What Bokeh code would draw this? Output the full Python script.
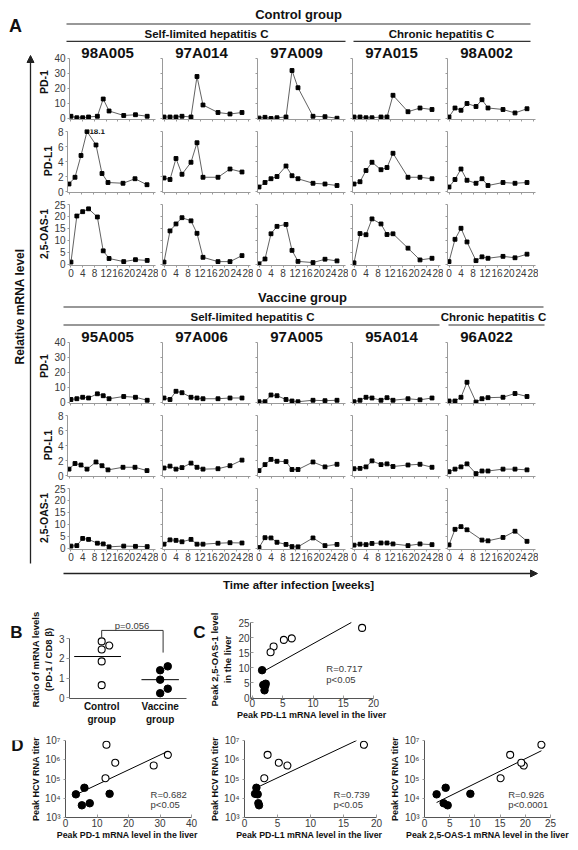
import numpy as np
from bokeh.plotting import figure
from bokeh.models import Range1d, FixedTicker, Arrow, NormalHead, CustomJSTickFormatter, Spacer
from bokeh.layouts import row, column
from bokeh.core.properties import value
from bokeh.embed import file_html
from bokeh.resources import INLINE

FONT = "Liberation Sans"
AXC = "#9a9a9a"
TXC = "#3a3a3a"

# ---------------- data ----------------
weeks = [0, 2, 4, 6, 9, 11, 13, 18, 22, 26]
weeks_96A022_oas = [0, 2, 4, 6, 11, 13, 18, 22, 26]

ctrl_ids = ["98A005", "97A014", "97A009", "97A015", "98A002"]
ctrl_pd1 = [
    [1.5, 0.5, 0.5, 1.0, 1.5, 13, 5, 2, 2.5, 1.5],
    [1, 1, 1, 1.5, 1, 28, 9, 4, 3, 4],
    [0.3, 0.8, 0.0, 0.5, 1.0, 32, 20.5, 1.5, 1.2, 0.2],
    [1, 1, 0.5, 0.5, 1, 1, 15.5, 4.5, 7, 6],
    [1, 7, 5.5, 10, 8, 12.5, 7, 6, 3.7, 6.5],
]
ctrl_pdl1 = [
    [1.0, 1.9, 4.8, 18.1, 6.2, 2.4, 1.2, 1.1, 1.7, 0.9],
    [1.8, 1.6, 4.4, 2.3, 3.9, 6.5, 1.9, 1.9, 3.0, 2.6],
    [0.6, 1.2, 1.7, 2.0, 3.4, 2.1, 1.7, 1.1, 1.0, 0.8],
    [1.0, 1.3, 2.8, 3.9, 2.9, 3.2, 5.1, 1.9, 1.9, 1.7],
    [0.6, 1.6, 3.0, 1.5, 1.1, 1.7, 0.8, 1.2, 1.1, 1.2],
]
ctrl_oas = [
    [1.0, 20.2, 22, 23.2, 19.8, 5.7, 2.5, 1.2, 2.0, 1.7],
    [1.0, 14, 16.9, 19.5, 18.2, 13, 3, 1.2, 1.2, 3.7],
    [0.3, 2.3, 12.8, 15.9, 16.7, 5.9, 1.3, 0.8, 2.2, 1.5],
    [0.7, 12.9, 12.4, 19, 16.9, 12.5, 12.8, 6.8, 1.9, 2.6],
    [1.2, 10.5, 15.1, 9.4, 1.6, 3.2, 2.6, 3.4, 2.8, 4.3],
]

vac_ids = ["95A005", "97A006", "97A005", "95A014", "96A022"]
vac_pd1 = [
    [2, 2.5, 3.5, 3, 5.8, 4.5, 2.5, 4, 3.5, 1.5],
    [3, 2, 7.5, 6.5, 3.5, 3, 2.5, 2.5, 3, 3],
    [0.5, 0.5, 5, 4.5, 2, 1, 0.5, 1.5, 1.2, 1.5],
    [0.5, 1.5, 3.5, 3, 1.5, 3.2, 1.5, 2.5, 1.8, 3],
    [1, 1, 3.5, 13.5, 0.3, 2.5, 3.2, 3.5, 6, 4],
]
vac_pdl1 = [
    [0.85, 1.6, 1.4, 0.85, 1.8, 1.3, 0.75, 1.1, 1.1, 0.65],
    [1.0, 1.25, 0.85, 1.05, 1.65, 1.1, 0.85, 0.9, 1.3, 2.05],
    [0.65, 1.45, 2.15, 1.9, 1.85, 0.8, 0.8, 1.8, 1.15, 1.5],
    [0.9, 0.95, 1.15, 1.95, 1.45, 1.55, 1.2, 1.4, 1.5, 1.1],
    [0.5, 0.85, 1.15, 1.55, 0.25, 0.6, 0.6, 0.85, 0.85, 0.75],
]
vac_oas = [
    [1.0, 1.2, 4.2, 3.8, 2.2, 1.9, 0.7, 1.0, 0.9, 0.8],
    [1.8, 3.6, 3.4, 2.8, 3.8, 1.8, 1.8, 2.2, 2.4, 2.3],
    [0.4, 4.5, 4.4, 2.6, 1.7, 0.8, 0.7, 4.4, 1.2, 1.7],
    [1.4, 1.8, 1.6, 2.1, 2.3, 2.3, 1.9, 1.2, 1.9, 1.6],
    [1.5, 8.0, 9.1, 7.8, 3.5, 3.2, 4.6, 7.2, 3.0],
]

week_ticks = [0, 4, 8, 12, 16, 20, 24, 28]

# panel B
b_ctrl = [2.87, 2.46, 2.66, 1.85, 0.64]
b_ctrl_jitter = [0, 0, 0.13, 0, 0]
b_vac = [1.40, 1.60, 0.92, 0.46, 0.23]
b_vac_jitter = [0, 0.13, 0, 0.13, 0]
b_median = [2.1, 0.92]
b_groups = ["Control\ngroup", "Vaccine\ngroup"]

# panels C / D (order: 5 control animals, then 5 vaccine animals)
peak_pd1 = [13, 28, 32.5, 15.8, 12.7, 6.0, 7.7, 5.2, 3.3, 14.0]
peak_pdl1 = [18.1, 6.5, 3.5, 5.2, 3.0, 1.8, 2.1, 2.2, 2.0, 1.6]
peak_oas = [23.2, 19.7, 17.0, 19.2, 15.1, 4.2, 3.8, 4.6, 2.4, 9.1]
peak_titer = [6e6, 5e5, 1.8e6, 7e5, 1.1e5, 3.5e4, 5.5e3, 4.3e3, 1.6e4, 1.7e4]
stats_c = ("R=0.717", "p<0.05")
stats_d = [("R=0.682", "p<0.05"), ("R=0.739", "p<0.05"), ("R=0.926", "p<0.0001")]


# ---------------- helpers ----------------
def base_fig(w, h, xr, yr, bl=0, br=0, bt=0, bb=0, **kw):
    p = figure(width=w, height=h, x_range=xr, y_range=yr, toolbar_location=None,
               output_backend="svg", title=None,
               min_border_left=bl, min_border_right=br,
               min_border_top=bt, min_border_bottom=bb, **kw)
    p.grid.visible = False
    p.outline_line_color = None
    return p


def deco(w, h, x0, y0):
    p = base_fig(w, h, Range1d(x0, x0 + w), Range1d(y0 + h, y0),
                 x_axis_location=None, y_axis_location=None)
    return p


def txt(p, x, y, s, size, bold=True, align="center", baseline="middle",
        angle=0.0, color="#111111"):
    p.text(x=[x], y=[y], text=[s], text_font=value(FONT), text_font_size=size,
           text_font_style="bold" if bold else "normal", text_align=align,
           text_baseline=baseline, angle=angle, text_color=color)


def hline(p, x0, x1, y, w=1.2, c="#333333"):
    p.line([x0, x1], [y, y], line_color=c, line_width=w)


def style_axis(ax, size="10px"):
    ax.axis_line_color = AXC
    ax.major_tick_line_color = AXC
    ax.minor_tick_line_color = None
    ax.major_label_text_font = FONT
    ax.major_label_text_font_size = size
    ax.major_label_text_color = TXC
    ax.axis_label_text_font = FONT
    ax.axis_label_text_font_style = "bold"
    ax.axis_label_text_color = "#111111"


ROWS = [
    dict(name="PD-1", ymax=40, ticks=[0, 10, 20, 30, 40], lo=-0.667, hi=49.333, h=85, bt=2, bb=8),
    dict(name="PD-L1", ymax=8, ticks=[0, 2, 4, 6, 8], lo=-0.133, hi=8.267, h=73, bt=2, bb=8),
    dict(name="2,5-OAS-1", ymax=25, ticks=[0, 5, 10, 15, 20, 25], lo=-0.417, hi=25.833, h=83, bt=2, bb=18),
]


def series_fig(col, ri, vals, ident):
    R = ROWS[ri]
    first = col == 0
    bottom = ri == 2
    w = 123 if first else 95
    bl = 32 if first else 4
    times = weeks if len(vals) == len(weeks) else weeks_96A022_oas
    p = base_fig(w, R["h"], Range1d(-0.5, -0.5 + 88 / 3.0), Range1d(R["lo"], R["hi"]),
                 bl=bl, br=3, bt=R["bt"], bb=R["bb"])
    ymax = R["ymax"]
    yv = np.minimum(np.array(vals, dtype=float), ymax)
    p.line(times, yv, line_color="#3a3a3a", line_width=0.8)
    p.scatter(times, yv, marker="square", size=3.8, fill_color="black", line_color="black")
    for t, v in zip(times, vals):
        if v > ymax:
            txt(p, t + 0.8, ymax + 0.05, "%.1f" % v, "8px", bold=True, align="left")
    style_axis(p.xaxis[0])
    style_axis(p.yaxis[0])
    p.xaxis.ticker = FixedTicker(ticks=week_ticks)
    p.xaxis.major_tick_out = 2
    p.xaxis.major_tick_in = 0
    p.xaxis.major_label_standoff = 1
    if not bottom:
        p.xaxis.major_label_overrides = {t: "" for t in week_ticks}
    p.yaxis.ticker = FixedTicker(ticks=R["ticks"])
    p.yaxis.bounds = (R["lo"], ymax)
    p.yaxis.major_tick_out = 2
    p.yaxis.major_tick_in = 0
    p.yaxis.major_label_standoff = 2
    if first:
        p.yaxis.axis_label = R["name"]
        p.yaxis.axis_label_text_font_size = "10.5px"
        p.yaxis.axis_label_standoff = 1
    else:
        p.yaxis.major_label_overrides = {t: "" for t in R["ticks"]}
    if ident is not None:
        txt(p, 12.5, ymax + 4.0, ident, "15px", bold=True)
    return p


def group_block(ids, pd1, pdl1, oas):
    rows_ = []
    for ri, data in enumerate([pd1, pdl1, oas]):
        figs = [series_fig(c, ri, data[c], ids[c] if ri == 0 else None) for c in range(5)]
        rows_.append(row(*figs))
    return rows_


# ---------------- panel A ----------------
left = deco(27, 584, 8, 8)
txt(left, 15, 25, "A", "18px")
txt(left, 19, 306, "Relative mRNA level", "12px", angle=np.pi / 2)
left.add_layout(Arrow(end=NormalHead(size=7, fill_color="#222222", line_color="#222222"),
                      x_start=30, y_start=563, x_end=30, y_end=55,
                      line_color="#222222", line_width=1.3))

hdr_c = deco(535, 34, 35, 8)
txt(hdr_c, 298, 14, "Control group", "13px")
hline(hdr_c, 66, 530, 23.5)
txt(hdr_c, 206, 33, "Self-limited hepatitis C", "11.5px")
txt(hdr_c, 441, 33, "Chronic hepatitis C", "11.5px")
hline(hdr_c, 66, 345, 40.8)
hline(hdr_c, 353, 530, 40.8)

hdr_v = deco(535, 43, 35, 283)
txt(hdr_v, 302, 297, "Vaccine group", "13px")
hline(hdr_v, 63, 543, 306.5)
txt(hdr_v, 252, 316, "Self-limited hepatitis C", "11.5px")
txt(hdr_v, 493, 316, "Chronic hepatitis C", "11.5px")
hline(hdr_v, 63, 439, 324.5)
hline(hdr_v, 448, 544, 324.5)

foot = deco(535, 25, 35, 567)
foot.add_layout(Arrow(end=NormalHead(size=7, fill_color="#222222", line_color="#222222"),
                      x_start=63, y_start=573, x_end=537, y_end=573,
                      line_color="#222222", line_width=1.3))
txt(foot, 298, 584, "Time after infection [weeks]", "11.5px")

colA = column(hdr_c, *group_block(ctrl_ids, ctrl_pd1, ctrl_pdl1, ctrl_oas),
              hdr_v, *group_block(vac_ids, vac_pd1, vac_pdl1, vac_oas), foot)
panelA = row(left, colA)

# ---------------- panel B ----------------
stripB = deco(18, 137, 8, 592)
txt(stripB, 16, 613, "B", "17px")

pB = base_fig(164, 137, Range1d(0.45, 2.45), Range1d(-0.039, 3.935), bl=36, br=4, bt=6, bb=29)
pB.line([0.53, 1.33], [b_median[0]] * 2, line_color="black", line_width=1)
pB.line([1.68, 2.32], [b_median[1]] * 2, line_color="black", line_width=1)
pB.scatter([1 + j for j in b_ctrl_jitter], b_ctrl, marker="circle", size=7,
           fill_color="white", line_color="black", line_width=1.1)
pB.scatter([2 + j for j in b_vac_jitter], b_vac, marker="circle", size=7.5,
           fill_color="black", line_color="black")
top_c = max(b_ctrl)
pB.line([1.0, 1.0, 2.05, 2.05], [top_c + 0.2, top_c + 0.56, top_c + 0.56, 2.3],
        line_color="#333333", line_width=1)
txt(pB, 1.52, top_c + 0.8, "p=0.056", "9.5px", bold=False, color=TXC)
style_axis(pB.xaxis[0])
style_axis(pB.yaxis[0])
pB.yaxis.ticker = FixedTicker(ticks=[0, 1, 2, 3])
pB.yaxis.bounds = (-0.039, 3)
pB.yaxis.major_tick_out = 3
pB.yaxis.major_tick_in = 0
pB.yaxis.major_label_standoff = 2
pB.yaxis.axis_label = "Ratio of mRNA levels\n(PD-1 / CD8 \u03b2)"
pB.yaxis.axis_label_text_font_size = "9.5px"
pB.yaxis.axis_label_standoff = 2
pB.xaxis.ticker = FixedTicker(ticks=[1, 2])
pB.xaxis.major_label_overrides = {1: b_groups[0], 2: b_groups[1]}
pB.xaxis.major_tick_out = 0
pB.xaxis.major_tick_in = 0
pB.xaxis.major_label_standoff = 2
pB.xaxis.major_label_text_font_style = "bold"
pB.xaxis.major_label_text_color = "#111111"
pB.xaxis.axis_line_color = "#555555"
pB.yaxis.axis_line_color = "#555555"

# ---------------- panel C ----------------
stripC = deco(16, 137, 190, 592)
txt(stripC, 199, 613, "C", "17px")

pC = base_fig(194, 137, Range1d(-0.3125, 20.3125), Range1d(-0.333, 25.667), bl=37, br=25, bt=28, bb=31)
xs = np.array(peak_pdl1)
ys = np.array(peak_oas)
k, b0 = np.polyfit(xs, ys, 1)
x_end = min(xs.max(), (25 - b0) / k)
pC.line([xs.min(), x_end], [k * xs.min() + b0, k * x_end + b0], line_color="black", line_width=1)
pC.scatter(xs[:5], ys[:5], marker="circle", size=7, fill_color="white", line_color="black", line_width=1.1)
pC.scatter(xs[5:], ys[5:], marker="circle", size=7.5, fill_color="black", line_color="black")
txt(pC, 12.2, 9.7, stats_c[0], "9.5px", bold=False, align="left", color=TXC)
txt(pC, 12.2, 6.0, stats_c[1], "9.5px", bold=False, align="left", color=TXC)
style_axis(pC.xaxis[0])
style_axis(pC.yaxis[0])
pC.xaxis.ticker = FixedTicker(ticks=[0, 5, 10, 15, 20])
pC.xaxis.bounds = (-0.3125, 20)
pC.xaxis.major_tick_out = 0
pC.xaxis.major_tick_in = 3
pC.xaxis.major_label_standoff = 0
pC.xaxis.axis_label = "Peak PD-L1 mRNA  level in the liver"
pC.xaxis.axis_label_text_font_size = "9px"
pC.xaxis.axis_label_standoff = 0
pC.yaxis.ticker = FixedTicker(ticks=[0, 5, 10, 15, 20, 25])
pC.yaxis.bounds = (-0.333, 25)
pC.yaxis.major_tick_out = 0
pC.yaxis.major_tick_in = 3
pC.yaxis.major_label_standoff = 1
pC.yaxis.axis_label = "Peak 2,5-OAS-1 level\nin the liver"
pC.yaxis.axis_label_text_font_size = "9.5px"
pC.yaxis.axis_label_standoff = 2
pC.xaxis.axis_line_color = "#555555"
pC.yaxis.axis_line_color = "#555555"

rowBC = row(stripB, pB, stripC, pC)

# ---------------- panel D ----------------
stripD = deco(18, 113, 8, 729)
txt(stripD, 17, 737, "D", "17px")

sup_fmt = CustomJSTickFormatter(code="""
const sup = {"0":"\u2070","1":"\u00b9","2":"\u00b2","3":"\u00b3","4":"\u2074",
             "5":"\u2075","6":"\u2076","7":"\u2077","8":"\u2078","9":"\u2079"};
const e = Math.round(Math.log10(tick));
return "10" + String(e).split("").map(c => sup[c]).join("");
""")


def d_fig(w, bl, br, xmax, xticks, xvals, xlabel, stats, sx):
    p = base_fig(w, 113, Range1d(0, xmax), Range1d(1e3, 1e7), bl=bl, br=br, bt=11, bb=24,
                 y_axis_type="log")
    xv = np.array(xvals, dtype=float)
    ly = np.log10(np.array(peak_titer))
    k, b0 = np.polyfit(xv, ly, 1)
    x0 = xv.min()
    x1 = min(xv.max(), (7 - b0) / k)
    p.line([x0, x1], [10 ** (k * x0 + b0), 10 ** (k * x1 + b0)], line_color="black", line_width=1)
    p.scatter(xv[:5], peak_titer[:5], marker="circle", size=7, fill_color="white",
              line_color="black", line_width=1.1)
    p.scatter(xv[5:], peak_titer[5:], marker="circle", size=7.5, fill_color="black",
              line_color="black")
    txt(p, sx, 1.5e4, stats[0], "9.5px", bold=False, align="left", color=TXC)
    txt(p, sx, 4.6e3, stats[1], "9.5px", bold=False, align="left", color=TXC)
    style_axis(p.xaxis[0])
    style_axis(p.yaxis[0])
    p.xaxis.ticker = FixedTicker(ticks=xticks)
    p.xaxis.major_tick_out = 0
    p.xaxis.major_tick_in = 3
    p.xaxis.major_label_standoff = 1
    p.xaxis.axis_label = xlabel
    p.xaxis.axis_label_text_font_size = "8.8px"
    p.xaxis.axis_label_standoff = 0
    p.yaxis.formatter = sup_fmt
    p.yaxis.major_tick_out = 2
    p.yaxis.major_tick_in = 0
    p.yaxis.major_label_standoff = 1
    p.yaxis.axis_label = "Peak HCV RNA titer"
    p.yaxis.axis_label_text_font_size = "9px"
    p.yaxis.axis_label_standoff = 1
    p.xaxis.axis_line_color = "#555555"
    p.yaxis.axis_line_color = "#555555"
    return p


pD1 = d_fig(178, 39, 13, 40, [0, 10, 20, 30, 40], peak_pd1,
            "Peak PD-1 mRNA  level in the liver", stats_d[0], 27)
pD2 = d_fig(183, 40, 11, 20, [0, 5, 10, 15, 20], peak_pdl1,
            "Peak PD-L1 mRNA level in the  liver", stats_d[1], 13.5)
pD3 = d_fig(183, 35, 20, 25, [0, 5, 10, 15, 20, 25], peak_oas,
            "Peak 2,5-OAS-1 mRNA level in the liver", stats_d[2], 16.6)

rowD = row(stripD, pD1, pD2, pD3)

body = column(panelA, rowBC, rowD)
layout = column(Spacer(width=570, height=8), row(Spacer(width=8, height=834), body))

with open("out.html", "w", encoding="utf-8") as f:
    f.write(file_html(layout, INLINE))
